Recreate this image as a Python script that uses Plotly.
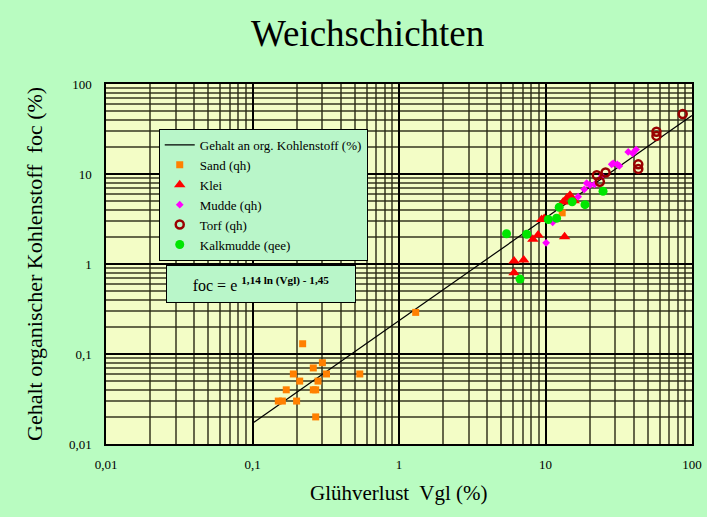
import plotly.graph_objects as go

# ---- data ----
line_x = [0.1, 100]
line_y = [0.017, 44.7]

sand_x = [0.22, 0.30, 0.26, 0.19, 0.32, 0.54, 0.21, 0.28, 0.17, 0.26, 0.27, 0.15, 0.16, 0.20, 0.27, 1.3, 13.0]
sand_y = [0.13, 0.08, 0.07, 0.06, 0.06, 0.06, 0.05, 0.05, 0.04, 0.04, 0.04, 0.03, 0.03, 0.03, 0.02, 0.29, 3.7]

klei_x = [6.1, 7.1, 6.1, 8.2, 8.9, 13.5, 9.4, 9.8, 13.2, 14.0, 14.7, 15.2, 15.7]
klei_y = [1.08, 1.11, 0.80, 1.88, 2.10, 2.01, 3.12, 3.20, 4.9, 5.4, 5.8, 5.1, 5.05]

mudde_x = [36.7, 39.4, 41.5, 28.3, 29.0, 30.9, 31.9, 24.2, 19.1, 20.1, 21.6, 18.4, 16.7, 11.2, 10.1]
mudde_y = [17.6, 17.0, 18.7, 12.8, 13.1, 12.8, 12.3, 9.5, 7.9, 7.55, 7.65, 6.76, 5.6, 2.91, 1.72]

torf_x = [86.4, 57.2, 57.2, 43.0, 43.0, 25.7, 22.4, 23.5]
torf_y = [46.4, 29.5, 26.5, 12.8, 11.4, 10.4, 9.7, 8.2]

kalk_x = [5.42, 7.44, 6.70, 10.45, 11.9, 12.4, 15.2, 18.6, 24.7]
kalk_y = [2.17, 2.14, 0.68, 3.12, 3.22, 4.27, 4.92, 4.56, 6.43]

tick_vals = [0.01, 0.1, 1, 10, 100]
tick_text = ["0,01", "0,1", "1", "10", "100"]

minor_vals = [m * d for d in [0.01, 0.1, 1, 10] for m in range(2, 10)]

FONT = "Liberation Serif, Times New Roman, serif"

fig = go.Figure()
fig.add_trace(go.Scatter(x=line_x, y=line_y, mode="lines",
                         line=dict(color="black", width=1.2),
                         name="Gehalt an org. Kohlenstoff (%)"))
fig.add_trace(go.Scatter(x=sand_x, y=sand_y, mode="markers", name="Sand (qh)",
                         marker=dict(symbol="square", size=7, color="#ff8000")))
fig.add_trace(go.Scatter(x=klei_x, y=klei_y, mode="markers", name="Klei",
                         marker=dict(symbol="triangle-up", size=10, color="#ff0000")))
fig.add_trace(go.Scatter(x=mudde_x, y=mudde_y, mode="markers", name="Mudde (qh)",
                         marker=dict(symbol="diamond", size=6, color="#ff00ff")))
fig.add_trace(go.Scatter(x=torf_x, y=torf_y, mode="markers", name="Torf (qh)",
                         marker=dict(symbol="circle-open", size=8, color="#990000",
                                     line=dict(width=2.5, color="#990000"))))
fig.add_trace(go.Scatter(x=kalk_x, y=kalk_y, mode="markers", name="Kalkmudde (qee)",
                         marker=dict(symbol="circle", size=9, color="#00e600")))

axis_common = dict(
    type="log", range=[-2, 2], automargin=False,
    tickmode="array", tickvals=tick_vals, ticktext=tick_text,
    showgrid=True, gridcolor="black", gridwidth=1.5,
    minor=dict(tickmode="array", tickvals=minor_vals, showgrid=True,
               gridcolor="rgba(40,40,20,0.7)", gridwidth=2, ticks=""),
    showline=True, linecolor="black", linewidth=1.5, mirror=True,
    ticks="", zeroline=False,
    tickfont=dict(family=FONT, size=13, color="black"),
)

fig.update_xaxes(**axis_common, ticklabelstandoff=8)
fig.update_yaxes(**axis_common, ticklabelstandoff=10)

fig.update_layout(
    width=707, height=517,
    margin=dict(l=106, r=15, t=84, b=73),
    paper_bgcolor="#b9fcc1",
    plot_bgcolor="#f3fdc6",
    font=dict(family=FONT, color="black"),
    title=dict(text="Weichschichten", x=0.52, xanchor="center", y=1 - 33 / 517,
               yanchor="middle", yref="container",
               font=dict(family=FONT, size=37, color="black")),
    showlegend=True,
    legend=dict(x=0.09, y=0.875, xanchor="left", yanchor="top",
                bgcolor="#b9f6c9", bordercolor="black", borderwidth=1,
                font=dict(family=FONT, size=13, color="black"),
                itemwidth=30, tracegroupgap=0),
    annotations=[
        dict(text="Glühverlust\u00a0 Vgl (%)", xref="paper", yref="paper",
             x=0.5, y=0, yshift=-49, xanchor="center", yanchor="middle",
             showarrow=False, font=dict(family=FONT, size=21, color="black")),
        dict(text="Gehalt organischer Kohlenstoff\u00a0 foc (%)", xref="paper", yref="paper",
             x=0, xshift=-72, y=0.5, xanchor="center", yanchor="middle", textangle=-90,
             showarrow=False, font=dict(family=FONT, size=22, color="black")),
        dict(text="foc = e <sup><b>1,14 ln (Vgl) - 1,45</b></sup>", xref="paper", yref="paper",
             x=(261 - 106) / 586, y=(444 - 284) / 360, xanchor="center", yanchor="middle",
             showarrow=False, width=186, height=34, bgcolor="#b9f6c9",
             bordercolor="black", borderwidth=1,
             font=dict(family=FONT, size=16, color="black")),
    ],
)

fig.write_html("out.html", config={"displayModeBar": False},
               post_script="document.body.style.margin='0';")
